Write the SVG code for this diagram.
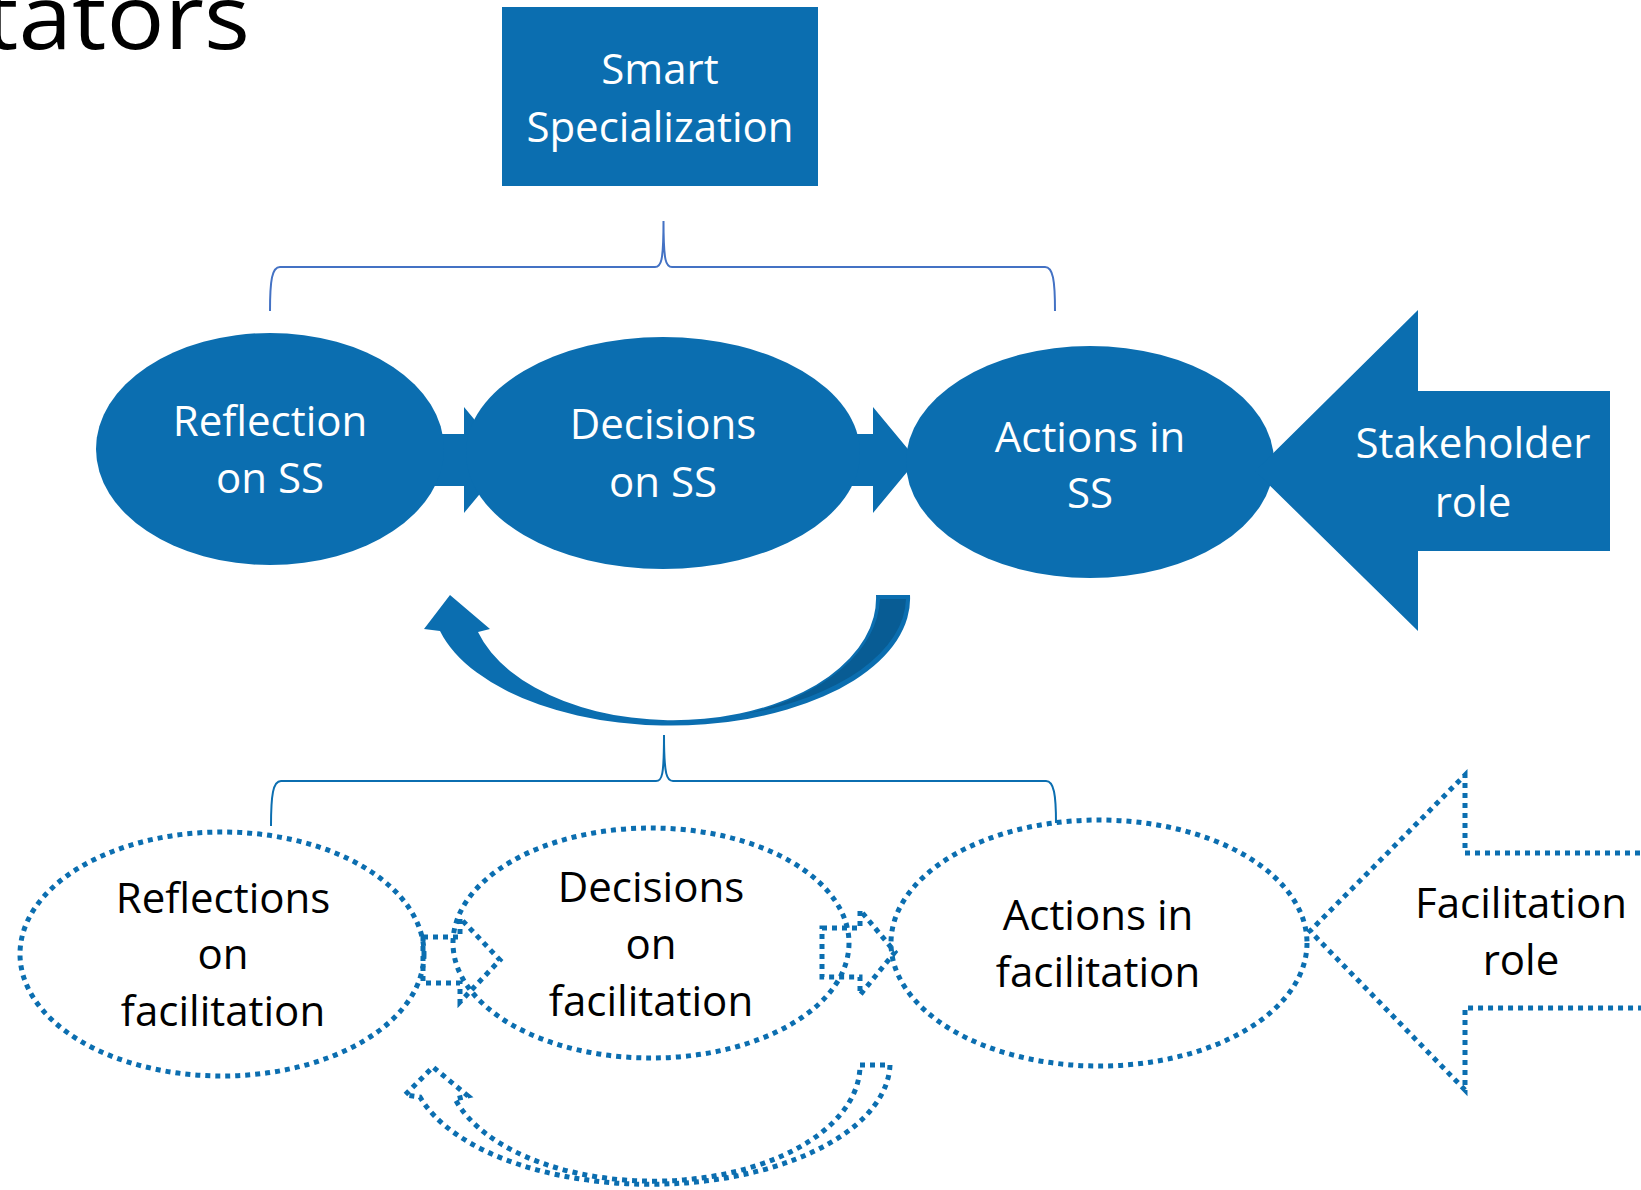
<svg xmlns="http://www.w3.org/2000/svg" width="1641" height="1190" viewBox="0 0 1641 1190">
  <style>
    .lbl { font-family: "Open Sans", "Liberation Sans", sans-serif; font-size: 42px; text-anchor: middle; }
    .w { fill: #ffffff; }
    .k { fill: #000000; }
    .solid { fill: #0B6EB0; }
    .dot { fill: none; stroke: #0B6EB0; stroke-width: 5; stroke-dasharray: 5 5; }
    .brace { fill: none; stroke-width: 2; }
  </style>

  <!-- heading fragment -->
  <text x="-16" y="49" font-family="'Open Sans', 'Liberation Sans', sans-serif" font-size="90" textLength="266" lengthAdjust="spacingAndGlyphs" fill="#000">tators</text>

  <!-- connectors: braces, block arrows, curved arrows -->
  <g id="connectors">
    <path class="brace" stroke="#4472C4" d="M 270 311 C 270 280 272 267 280 267 L 655 267 C 661 267 663.5 262 663.5 221 C 663.5 262 666 267 672 267 L 1045 267 C 1053 267 1055 280 1055 311"/>
    <path class="brace" stroke="#0B6EB0" d="M 271 826 C 271 795 273 781 281 781 L 656 781 C 662 781 664 776 664 735 C 664 776 667 781 673 781 L 1046 781 C 1054 781 1056 795 1056 823"/>

    <!-- solid block arrows between upper stages -->
    <polygon class="solid" points="430,434 464,434 464,407 508,460 464,513 464,486 430,486"/>
    <polygon class="solid" points="845,434 873,434 873,407 917,460 873,513 873,486 845,486"/>

    <!-- dotted block arrows between lower stages -->
    <polygon class="dot" points="423,937 460,937 460,918 500,960 460,1002 460,983 423,983"/>
    <polygon class="dot" points="822,928 860,928 860,910 895,952 860,995 860,977 822,977"/>

    <!-- curved feedback arrow, solid -->
    <path class="solid" d="M 876 595 L 910 595 A 239 127 0 0 1 440 631 L 424 629 L 450 595 L 490 629 L 478 632 A 203 122 0 0 0 876 595 Z"/>
    <path fill="#085C94" d="M 880 599 L 906 599 A 235 123 0 0 1 745 714 A 207 126 0 0 0 880 599 Z"/>

    <!-- curved feedback arrow, dotted -->
    <path class="dot" d="M 860 1065 L 890 1065 A 240 122 0 0 1 420 1097 L 405 1095 L 433 1067 L 468 1096 L 455 1099 A 207 116 0 0 0 860 1065 Z"/>
  </g>

  <g id="smart-specialization">
    <rect x="502" y="7" width="316" height="179" class="solid"/>
    <text class="lbl w" x="660" y="84">Smart</text>
    <text class="lbl w" x="660" y="142">Specialization</text>
  </g>

  <g id="reflection-ss">
    <ellipse cx="270" cy="449" rx="174" ry="116" class="solid"/>
    <text class="lbl w" x="270" y="436">Reflection</text>
    <text class="lbl w" x="270" y="493">on SS</text>
  </g>

  <g id="decisions-ss">
    <ellipse cx="663" cy="453" rx="197" ry="116" class="solid"/>
    <text class="lbl w" x="663" y="439">Decisions</text>
    <text class="lbl w" x="663" y="497">on SS</text>
  </g>

  <g id="actions-ss">
    <ellipse cx="1090" cy="462" rx="184" ry="116" class="solid"/>
    <text class="lbl w" x="1090" y="452">Actions in</text>
    <text class="lbl w" x="1090" y="508">SS</text>
  </g>

  <g id="stakeholder-role">
    <polygon class="solid" points="1610,391 1418,391 1418,310 1255,471 1418,631 1418,551 1610,551"/>
    <text class="lbl w" x="1473" y="458">Stakeholder</text>
    <text class="lbl w" x="1473" y="517">role</text>
  </g>

  <g id="reflections-facilitation">
    <ellipse cx="222" cy="954" rx="202" ry="122" class="dot"/>
    <text class="lbl k" x="223" y="913">Reflections</text>
    <text class="lbl k" x="223" y="969">on</text>
    <text class="lbl k" x="223" y="1026">facilitation</text>
  </g>

  <g id="decisions-facilitation">
    <ellipse cx="651" cy="943" rx="198" ry="115" class="dot"/>
    <text class="lbl k" x="651" y="902">Decisions</text>
    <text class="lbl k" x="651" y="959">on</text>
    <text class="lbl k" x="651" y="1016">facilitation</text>
  </g>

  <g id="actions-facilitation">
    <ellipse cx="1099" cy="943" rx="208" ry="123" class="dot"/>
    <text class="lbl k" x="1098" y="930">Actions in</text>
    <text class="lbl k" x="1098" y="987">facilitation</text>
  </g>

  <g id="facilitation-role">
    <path class="dot" d="M 1660 853 L 1465 853 L 1465 775 L 1310 931 L 1465 1090 L 1465 1008 L 1660 1008"/>
    <text class="lbl k" x="1521" y="918">Facilitation</text>
    <text class="lbl k" x="1521" y="975">role</text>
  </g>
</svg>
